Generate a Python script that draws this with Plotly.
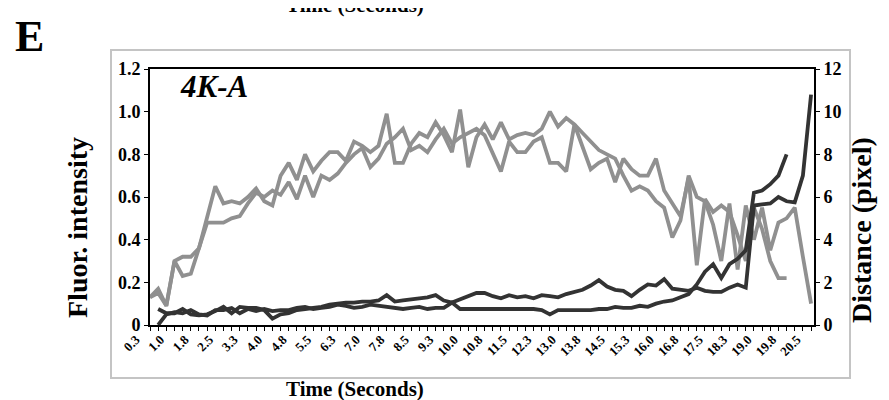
import plotly.graph_objects as go

# ---- data -------------------------------------------------------------
time_s = [0.25, 0.5, 0.75, 1.0, 1.25, 1.5, 1.75, 2.0, 2.25, 2.5,
          2.75, 3.0, 3.25, 3.5, 3.75, 4.0, 4.25, 4.5, 4.75, 5.0,
          5.25, 5.5, 5.75, 6.0, 6.25, 6.5, 6.75, 7.0, 7.25, 7.5,
          7.75, 8.0, 8.25, 8.5, 8.75, 9.0, 9.25, 9.5, 9.75, 10.0,
          10.25, 10.5, 10.75, 11.0, 11.25, 11.5, 11.75, 12.0, 12.25, 12.5,
          12.75, 13.0, 13.25, 13.5, 13.75, 14.0, 14.25, 14.5, 14.75, 15.0,
          15.25, 15.5, 15.75, 16.0, 16.25, 16.5, 16.75, 17.0, 17.25, 17.5,
          17.75, 18.0, 18.25, 18.5, 18.75, 19.0, 19.25, 19.5, 19.75, 20.0,
          20.25, 20.5]

tick_times = [0.25, 1.0, 1.75, 2.5, 3.25, 4.0, 4.75, 5.5, 6.25, 7.0,
              7.75, 8.5, 9.25, 10.0, 10.75, 11.5, 12.25, 13.0, 13.75, 14.5,
              15.25, 16.0, 16.75, 17.5, 18.25, 19.0, 19.75, 20.5]
tick_labels = ["0.3", "1.0", "1.8", "2.5", "3.3", "4.0", "4.8", "5.5", "6.3", "7.0",
               "7.8", "8.5", "9.3", "10.0", "10.8", "11.5", "12.3", "13.0", "13.8", "14.5",
               "15.3", "16.0", "16.8", "17.5", "18.3", "19.0", "19.8", "20.5"]

fluor_a = [0.13, 0.17, 0.09, 0.30, 0.32, 0.32, 0.36, 0.50, 0.65, 0.57,
           0.58, 0.57, 0.60, 0.64, 0.58, 0.56, 0.70, 0.76, 0.68, 0.80,
           0.72, 0.77, 0.81, 0.81, 0.77, 0.86, 0.84, 0.81, 0.84, 0.99,
           0.76, 0.76, 0.85, 0.90, 0.88, 0.95, 0.89, 0.81, 1.01, 0.74,
           0.88, 0.94, 0.87, 0.95, 0.87, 0.89, 0.90, 0.89, 0.92, 1.00,
           0.93, 0.97, 0.94, 0.90, 0.86, 0.82, 0.80, 0.78, 0.70, 0.63,
           0.65, 0.63, 0.58, 0.55, 0.41, 0.49, 0.70, 0.60, 0.58, 0.47,
           0.30, 0.57, 0.26, 0.56, 0.40, 0.55, 0.35, 0.48, 0.50, 0.55,
           0.32, 0.10]

fluor_b = [0.13, 0.15, 0.09, 0.30, 0.23, 0.24, 0.36, 0.48, 0.48, 0.48,
           0.50, 0.51, 0.57, 0.62, 0.60, 0.63, 0.61, 0.67, 0.59, 0.70,
           0.60, 0.70, 0.68, 0.71, 0.76, 0.80, 0.83, 0.74, 0.78, 0.85,
           0.88, 0.92, 0.82, 0.84, 0.81, 0.87, 0.92, 0.85, 0.88, 0.90,
           0.92, 0.89, 0.80, 0.72, 0.86, 0.81, 0.81, 0.86, 0.88, 0.76,
           0.76, 0.72, 0.94, 0.83, 0.73, 0.76, 0.78, 0.67, 0.78, 0.73,
           0.70, 0.70, 0.78, 0.63, 0.57, 0.51, 0.69, 0.28, 0.59, 0.53,
           0.56, 0.53, 0.42, 0.30, 0.55, 0.45, 0.30, 0.22, 0.22, None,
           None, None]

dist_a = [None, 0.75, 0.55, 0.55, 0.75, 0.50, 0.45, 0.50, 0.65, 0.85,
          0.55, 0.85, 0.80, 0.80, 0.70, 0.30, 0.50, 0.55, 0.70, 0.75,
          0.80, 0.85, 0.95, 1.00, 1.05, 1.05, 1.10, 1.10, 1.15, 1.40,
          1.10, 1.15, 1.20, 1.25, 1.30, 1.40, 1.15, 1.05, 1.20, 1.35,
          1.50, 1.50, 1.35, 1.25, 1.40, 1.30, 1.35, 1.25, 1.40, 1.35,
          1.30, 1.45, 1.55, 1.65, 1.85, 2.10, 1.80, 1.65, 1.60, 1.35,
          1.65, 1.90, 1.85, 2.15, 1.70, 1.65, 1.60, 1.75, 1.60, 1.55,
          1.55, 1.75, 1.90, 1.75, 5.60, 5.65, 5.70, 6.00, 5.80, 5.75,
          7.00, 10.80]

dist_b = [None, 0.00, 0.50, 0.60, 0.55, 0.70, 0.50, 0.45, 0.70, 0.70,
          0.80, 0.55, 0.75, 0.65, 0.75, 0.65, 0.70, 0.70, 0.80, 0.85,
          0.75, 0.80, 0.85, 0.95, 0.90, 0.80, 0.85, 0.95, 0.90, 0.85,
          0.80, 0.75, 0.80, 0.85, 0.75, 0.80, 0.80, 1.05, 0.75, 0.75,
          0.75, 0.75, 0.75, 0.75, 0.75, 0.75, 0.75, 0.75, 0.70, 0.50,
          0.70, 0.70, 0.70, 0.70, 0.70, 0.75, 0.75, 0.85, 0.80, 0.80,
          0.90, 0.85, 1.00, 1.10, 1.15, 1.30, 1.45, 1.90, 2.50, 2.85,
          2.20, 2.85, 3.10, 3.50, 6.20, 6.30, 6.60, 7.00, 8.00, None,
          None, None]

left_ticks = [0, 0.2, 0.4, 0.6, 0.8, 1.0, 1.2]
left_labels = ["0", "0.2", "0.4", "0.6", "0.8", "1.0", "1.2"]
right_ticks = [0, 2, 4, 6, 8, 10, 12]
right_labels = ["0", "2", "4", "6", "8", "10", "12"]

# ---- layout geometry (pixels) -----------------------------------------
W, H = 889, 400
PL, PR, PT, PB = 142, 806, 61, 317


def px(x):
    return (x - PL) / (PR - PL)


def py(y):
    return (PB - y) / (PB - PT)


SERIF = "Liberation Serif, Times New Roman, serif"
LIGHT = "#909090"
DARK = "#333333"

fig = go.Figure()
for ys in (fluor_a, fluor_b):
    fig.add_trace(go.Scatter(x=time_s, y=ys, mode="lines", yaxis="y",
                             line=dict(color=LIGHT, width=3.8),
                             connectgaps=False, showlegend=False,
                             hoverinfo="skip"))
for ys in (dist_a, dist_b):
    fig.add_trace(go.Scatter(x=time_s, y=ys, mode="lines", yaxis="y2",
                             line=dict(color=DARK, width=3.8),
                             connectgaps=False, showlegend=False,
                             hoverinfo="skip"))

label_of = dict(zip(tick_times, tick_labels))
x_ticktext = ["<b>%s</b>" % label_of[t] if t in label_of else "" for t in time_s]

fig.update_layout(
    width=W, height=H,
    margin=dict(l=PL, r=W - PR, t=PT, b=H - PB, pad=0),
    paper_bgcolor="white", plot_bgcolor="white",
    font=dict(family=SERIF, color="black"),
    showlegend=False,
    xaxis=dict(range=[0.25, 20.59], tickmode="array", tickvals=time_s,
               ticktext=x_ticktext, tickangle=-45, ticklabelshift=-14,
               ticklabelstandoff=-4,
               tickfont=dict(family=SERIF, size=13, color="black"),
               ticks="outside", ticklen=4, tickwidth=1, tickcolor="black",
               showline=True, linecolor="black", linewidth=2, mirror=True,
               showgrid=False, zeroline=False),
    yaxis=dict(range=[0, 1.2], tickmode="array", tickvals=left_ticks,
               ticktext=["<b>%s</b>" % t for t in left_labels],
               tickfont=dict(family=SERIF, size=18, color="black"),
               ticks="outside", ticklen=4, tickwidth=1, tickcolor="black",
               showline=True, linecolor="black", linewidth=2,
               showgrid=False, zeroline=False),
    yaxis2=dict(range=[0, 12], overlaying="y", side="right",
                tickmode="array", tickvals=right_ticks,
                ticktext=["<b>%s</b>" % t for t in right_labels],
                tickfont=dict(family=SERIF, size=18, color="black"),
                ticks="outside", ticklen=4, tickwidth=1, tickcolor="black",
                showline=True, linecolor="black", linewidth=2,
                showgrid=False, zeroline=False),
)

# light grey chart-area frame
fig.add_shape(type="rect", xref="paper", yref="paper",
              x0=px(103), x1=px(842), y0=py(370), y1=py(42),
              line=dict(color="#c4c4c4", width=2), fillcolor="rgba(0,0,0,0)",
              layer="below")

annos = [
    dict(text="<b>E</b>", x=px(5), y=py(28), xanchor="left", yanchor="middle",
         font=dict(size=44)),
    dict(text="<b>Time (Seconds)</b>", x=px(347), y=py(11), xanchor="center",
         yanchor="bottom", font=dict(size=21)),
    dict(text="<b><i>4K-A</i></b>", x=px(206), y=py(78), xanchor="center",
         yanchor="middle", font=dict(size=31)),
    dict(text="<b>Time (Seconds)</b>", x=px(347), y=py(381), xanchor="center",
         yanchor="middle", font=dict(size=21)),
    dict(text="<b>Fluor. intensity</b>", x=px(69), y=py(220), xanchor="center",
         yanchor="middle", textangle=-90, font=dict(size=28)),
    dict(text="<b>Distance (pixel)</b>", x=px(853), y=py(222), xanchor="center",
         yanchor="middle", textangle=-90, font=dict(size=28)),
]
for a in annos:
    a.update(xref="paper", yref="paper", showarrow=False)
    a["font"].update(family=SERIF, color="black")
    fig.add_annotation(**a)

fig.write_html("out.html")
